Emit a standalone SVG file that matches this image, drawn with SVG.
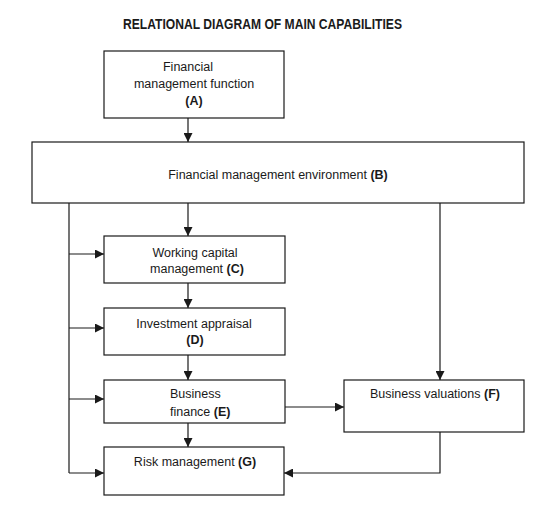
<svg xmlns="http://www.w3.org/2000/svg" width="559" height="517" viewBox="0 0 559 517">
<style>
.box{fill:#fff;stroke:#1a1a1a;stroke-width:1.2}
.t{font-family:"Liberation Sans",Arial,sans-serif;font-size:12.5px;fill:#1a1a1a}
.c{text-anchor:middle}
.b{font-weight:bold}
.ln{fill:none;stroke:#1a1a1a;stroke-width:1.2}
</style>
<defs>
<marker id="ah" viewBox="0 0 10 10" refX="10" refY="5" markerWidth="9" markerHeight="9" markerUnits="userSpaceOnUse" orient="auto">
<path d="M0,0 L10,5 L0,10 Z" fill="#1a1a1a"/>
</marker>
</defs>
<rect width="559" height="517" fill="#fff"/>
<text class="t b c" x="262.5" y="29" style="font-size:14px" textLength="279" lengthAdjust="spacingAndGlyphs">RELATIONAL DIAGRAM OF MAIN CAPABILITIES</text>

<g id="connectors">
<path class="ln" d="M188,118 V142" marker-end="url(#ah)"/>
<path class="ln" d="M188,203 V236" marker-end="url(#ah)"/>
<path class="ln" d="M188,283 V308" marker-end="url(#ah)"/>
<path class="ln" d="M188,355 V380" marker-end="url(#ah)"/>
<path class="ln" d="M188,423 V447" marker-end="url(#ah)"/>
<path class="ln" d="M69,203 V473"/>
<path class="ln" d="M69,254 H104" marker-end="url(#ah)"/>
<path class="ln" d="M69,328 H104" marker-end="url(#ah)"/>
<path class="ln" d="M69,399 H104" marker-end="url(#ah)"/>
<path class="ln" d="M69,473 H104" marker-end="url(#ah)"/>
<path class="ln" d="M440,203 V380" marker-end="url(#ah)"/>
<path class="ln" d="M285,407 H344" marker-end="url(#ah)"/>
<path class="ln" d="M440,432 V473 H284" marker-end="url(#ah)"/>
</g>

<g id="nodeA">
<rect class="box" x="104" y="51" width="180" height="67"/>
<text class="t c" x="188" y="71">Financial</text>
<text class="t c" x="194" y="88">management function</text>
<text class="t c b" x="194" y="105">(A)</text>
</g>
<g id="nodeB">
<rect class="box" x="32" y="142" width="492" height="61"/>
<text class="t c" x="278" y="179">Financial management environment <tspan class="b">(B)</tspan></text>
</g>
<g id="nodeC">
<rect class="box" x="104" y="236" width="181" height="47"/>
<text class="t c" x="195" y="257">Working capital</text>
<text class="t c" x="197" y="273">management <tspan class="b">(C)</tspan></text>
</g>
<g id="nodeD">
<rect class="box" x="104" y="308" width="181" height="47"/>
<text class="t c" x="194" y="328">Investment appraisal</text>
<text class="t c b" x="195" y="344">(D)</text>
</g>
<g id="nodeE">
<rect class="box" x="104" y="380" width="181" height="43"/>
<text class="t" x="170" y="398">Business</text>
<text class="t" x="170" y="416">finance <tspan class="b">(E)</tspan></text>
</g>
<g id="nodeF">
<rect class="box" x="344" y="380" width="180" height="52"/>
<text class="t c" x="435" y="398">Business valuations <tspan class="b">(F)</tspan></text>
</g>
<g id="nodeG">
<rect class="box" x="104" y="447" width="180" height="48"/>
<text class="t c" x="195" y="466">Risk management <tspan class="b">(G)</tspan></text>
</g>
</svg>
